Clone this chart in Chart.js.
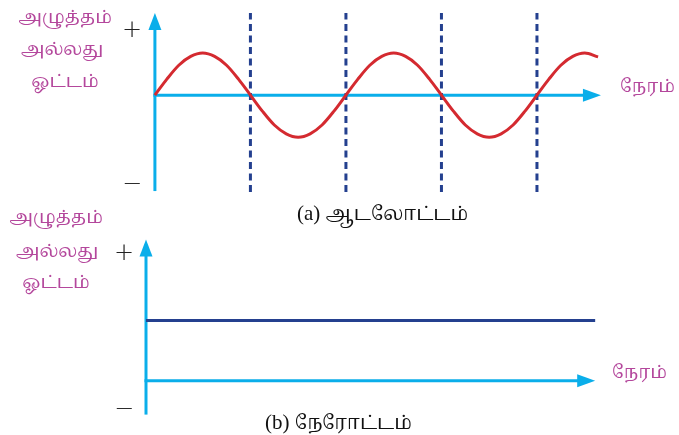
<!DOCTYPE html>
<html><head><meta charset="utf-8">
<script src="https://cdn.jsdelivr.net/npm/chart.js@4"></script>
<style>
html,body{margin:0;padding:0;background:#fff;}
body{width:679px;height:435px;position:relative;overflow:hidden;}
canvas{position:absolute;left:0;}
.t{position:absolute;white-space:nowrap;line-height:1;transform:translate(-50%,-50%);}
.ta{color:#b4479c;font-family:"Noto Serif Tamil","Noto Sans Tamil","Lohit Tamil","Latha",serif;font-size:18px;}
.pm{color:#222;font-family:"DejaVu Sans",sans-serif;font-size:24px;font-weight:200;}
.cap{color:#111;font-family:"Liberation Serif","Noto Serif Tamil","Noto Sans Tamil",serif;font-size:19px;transform:translate(0,-50%);}
.cap .p{font-size:21px;}
.tm{transform:translate(0,-50%);}
</style></head>
<body>
<canvas id="c1" width="679" height="200" style="top:0"></canvas>
<canvas id="c2" width="679" height="235" style="top:200px"></canvas>
<script>
// ---- data ----
const yAxisLabelLines = ['அழுத்தம்', 'அல்லது', 'ஓட்டம்'];
const timeLabel = 'நேரம்';
const captionA = ['(a)', 'ஆடலோட்டம்'];
const captionB = ['(b)', 'நேரோட்டம்'];
// AC (alternating) signal: time in half-periods, value in amplitude units
const acTime  = [0, 0.125, 0.25, 0.375, 0.5, 0.625, 0.75, 0.875, 1,
                 1.125, 1.25, 1.375, 1.5, 1.625, 1.75, 1.875, 2,
                 2.125, 2.25, 2.375, 2.5, 2.625, 2.75, 2.875, 3,
                 3.125, 3.25, 3.375, 3.5, 3.625, 3.75, 3.875, 4,
                 4.125, 4.25, 4.375, 4.5, 4.64];
const acValue = [0, 0.38, 0.71, 0.92, 1, 0.92, 0.71, 0.38, 0,
                 -0.38, -0.71, -0.92, -1, -0.92, -0.71, -0.38, 0,
                 0.38, 0.71, 0.92, 1, 0.92, 0.71, 0.38, 0,
                 -0.38, -0.71, -0.92, -1, -0.92, -0.71, -0.38, 0,
                 0.38, 0.71, 0.92, 1, 0.91];
const halfPeriodMarks = [1, 2, 3, 4];
// DC (direct) signal
const dcTime  = [0, 4.65];
const dcValue = [1, 1];

const CYAN = '#0aaeea', RED = '#d42a30', NAVY = '#24408f';

function axesPlugin(cfg) {
  return {
    id: 'axes',
    beforeDatasetsDraw(chart) {
      const ctx = chart.ctx, x = chart.scales.x, y = chart.scales.y;
      const x0 = x.getPixelForValue(0), y0 = y.getPixelForValue(0);
      const yb = y.getPixelForValue(cfg.yFrom), yt = y.getPixelForValue(cfg.yTo);
      const xe = x.getPixelForValue(cfg.xTo);
      ctx.save();
      ctx.strokeStyle = CYAN; ctx.fillStyle = CYAN; ctx.lineWidth = 3; ctx.lineCap = 'butt';
      ctx.beginPath(); ctx.moveTo(x0, yb); ctx.lineTo(x0, yt + 12); ctx.stroke();
      ctx.beginPath(); ctx.moveTo(x0 - 1.5, y0); ctx.lineTo(xe - 12, y0); ctx.stroke();
      ctx.beginPath(); ctx.moveTo(x0, yt); ctx.lineTo(x0 - 6.5, yt + 17); ctx.lineTo(x0 + 6.5, yt + 17); ctx.closePath(); ctx.fill();
      ctx.beginPath(); ctx.moveTo(xe, y0); ctx.lineTo(xe - 18, y0 - 6.5); ctx.lineTo(xe - 18, y0 + 6.5); ctx.closePath(); ctx.fill();
      ctx.restore();
    }
  };
}

const baseOpts = (pad, xr, yr) => ({
  responsive: false, animation: false, events: [],
  layout: { padding: pad },
  scales: {
    x: { type: 'linear', display: false, min: xr[0], max: xr[1] },
    y: { type: 'linear', display: false, min: yr[0], max: yr[1] }
  },
  plugins: { legend: { display: false }, tooltip: { enabled: false }, title: { display: false } },
  elements: { point: { radius: 0 } }
});

const acData = acTime.map((t, i) => ({ x: t, y: acValue[i] }));
const dashSets = halfPeriodMarks.map(t => ({
  data: [{ x: t, y: -2.3 }, { x: t, y: 1.95 }],
  borderColor: NAVY, borderWidth: 3, borderDash: [7, 4.5], pointRadius: 0, tension: 0
}));

new Chart(document.getElementById('c1'), {
  type: 'line',
  data: { datasets: [
    { data: acData, borderColor: RED, borderWidth: 3, cubicInterpolationMode: 'monotone', pointRadius: 0 },
    ...dashSets
  ] },
  options: baseOpts({ left: 153, right: 79, top: 11, bottom: 6 }, [-0.02, 4.66], [-2.35, 2.0]),
  plugins: [axesPlugin({ yFrom: -2.28, yTo: 1.95, xTo: 4.67 })]
});

new Chart(document.getElementById('c2'), {
  type: 'line',
  data: { datasets: [
    { data: dcTime.map((t, i) => ({ x: t, y: dcValue[i] })), borderColor: NAVY, borderWidth: 3, pointRadius: 0 }
  ] },
  options: baseOpts({ left: 146, right: 79, top: 36, bottom: 18 }, [0, 4.7], [-0.6, 2.4]),
  plugins: [axesPlugin({ yFrom: -0.56, yTo: 2.34, xTo: 4.65 })]
});

// ---- text labels ----
function label(text, cls, x, y) {
  const d = document.createElement('div');
  d.className = 't ' + cls;
  if (Array.isArray(text)) {
    const a = document.createElement('span'); a.className = 'p'; a.textContent = text[0] + ' ';
    const b = document.createElement('span'); b.textContent = text[1];
    d.appendChild(a); d.appendChild(b);
  } else d.textContent = text;
  d.style.left = x + 'px'; d.style.top = y + 'px';
  document.body.appendChild(d);
}
[[65, 18], [62, 50], [65, 82]].forEach((p, i) => label(yAxisLabelLines[i], 'ta', p[0], p[1]));
[[56, 218], [57, 252], [56, 283]].forEach((p, i) => label(yAxisLabelLines[i], 'ta', p[0], p[1]));
label('+', 'pm', 132, 29); label('−', 'pm', 132, 183);
label('+', 'pm', 124, 252); label('−', 'pm', 124, 408);
label(timeLabel, 'ta tm', 620, 87);
label(timeLabel, 'ta tm', 612, 373);
label(captionA, 'cap', 297, 213);
label(captionB, 'cap', 265, 422);
</script>
</body></html>
